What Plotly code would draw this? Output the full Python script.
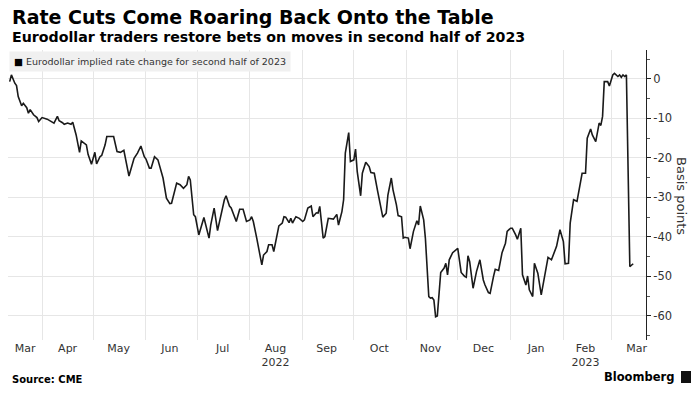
import plotly.graph_objects as go

# ---------------- data ----------------
series_name = "Eurodollar implied rate change for second half of 2023"

dates = [
    "2022-03-13", "2022-03-14", "2022-03-16", "2022-03-17", "2022-03-18", "2022-03-20", "2022-03-21",
    "2022-03-23", "2022-03-24", "2022-03-25", "2022-03-27", "2022-03-29", "2022-03-30",
    "2022-04-01", "2022-04-04", "2022-04-06", "2022-04-08", "2022-04-10", "2022-04-11", "2022-04-13",
    "2022-04-14", "2022-04-16", "2022-04-18", "2022-04-19", "2022-04-21", "2022-04-23", "2022-04-24",
    "2022-04-27", "2022-04-28", "2022-04-30",
    "2022-05-02", "2022-05-03", "2022-05-05", "2022-05-06", "2022-05-08", "2022-05-09", "2022-05-11",
    "2022-05-13", "2022-05-15", "2022-05-17", "2022-05-19", "2022-05-22", "2022-05-25", "2022-05-27",
    "2022-05-29", "2022-05-31",
    "2022-06-01", "2022-06-03", "2022-06-04", "2022-06-06", "2022-06-08", "2022-06-09", "2022-06-11",
    "2022-06-13", "2022-06-15", "2022-06-16", "2022-06-18", "2022-06-19", "2022-06-21", "2022-06-23",
    "2022-06-25", "2022-06-26", "2022-06-27", "2022-06-29", "2022-06-30",
    "2022-07-02", "2022-07-05", "2022-07-08", "2022-07-09", "2022-07-11", "2022-07-13", "2022-07-15",
    "2022-07-17", "2022-07-18", "2022-07-20", "2022-07-21", "2022-07-24", "2022-07-26", "2022-07-28",
    "2022-07-30",
    "2022-08-01", "2022-08-02", "2022-08-03", "2022-08-05", "2022-08-06", "2022-08-08", "2022-08-09",
    "2022-08-11", "2022-08-12", "2022-08-14", "2022-08-15", "2022-08-17", "2022-08-18", "2022-08-20",
    "2022-08-21", "2022-08-22", "2022-08-24", "2022-08-25", "2022-08-26", "2022-08-28", "2022-08-30",
    "2022-09-01", "2022-09-02", "2022-09-04", "2022-09-06", "2022-09-07", "2022-09-09", "2022-09-10",
    "2022-09-11", "2022-09-13", "2022-09-14", "2022-09-16", "2022-09-18", "2022-09-19", "2022-09-21",
    "2022-09-22", "2022-09-24", "2022-09-25", "2022-09-26", "2022-09-28", "2022-09-29",
    "2022-10-01", "2022-10-02", "2022-10-03", "2022-10-05", "2022-10-06", "2022-10-08", "2022-10-10",
    "2022-10-11", "2022-10-13", "2022-10-15", "2022-10-17", "2022-10-18", "2022-10-20", "2022-10-21",
    "2022-10-23", "2022-10-24", "2022-10-26", "2022-10-27", "2022-10-29", "2022-10-30", "2022-10-31",
    "2022-11-02", "2022-11-03", "2022-11-05", "2022-11-07", "2022-11-08", "2022-11-09", "2022-11-11",
    "2022-11-12", "2022-11-14", "2022-11-15", "2022-11-16", "2022-11-17", "2022-11-18", "2022-11-19",
    "2022-11-21", "2022-11-23", "2022-11-24", "2022-11-25", "2022-11-26", "2022-11-28", "2022-11-30",
    "2022-12-01", "2022-12-03", "2022-12-05", "2022-12-06", "2022-12-07", "2022-12-08", "2022-12-10",
    "2022-12-12", "2022-12-13", "2022-12-14", "2022-12-16", "2022-12-17", "2022-12-19", "2022-12-20",
    "2022-12-22", "2022-12-23", "2022-12-25", "2022-12-27", "2022-12-29", "2022-12-30",
    "2023-01-01", "2023-01-02", "2023-01-04", "2023-01-05", "2023-01-07", "2023-01-08", "2023-01-10",
    "2023-01-11", "2023-01-12", "2023-01-14", "2023-01-15", "2023-01-17", "2023-01-19", "2023-01-21",
    "2023-01-23", "2023-01-25", "2023-01-28", "2023-01-30",
    "2023-02-01", "2023-02-02", "2023-02-04", "2023-02-05", "2023-02-07", "2023-02-09", "2023-02-11",
    "2023-02-12", "2023-02-14", "2023-02-15", "2023-02-17", "2023-02-18", "2023-02-20", "2023-02-22",
    "2023-02-23", "2023-02-24", "2023-02-25", "2023-02-27", "2023-02-28",
    "2023-03-02", "2023-03-03", "2023-03-05", "2023-03-06", "2023-03-07", "2023-03-08", "2023-03-09",
    "2023-03-10", "2023-03-12", "2023-03-14",
]

values = [
    -0.7, 1.0, -1.1, -1.7, -4.5, -6.8, -6.2,
    -7.3, -8.7, -7.8, -9.1, -9.8, -10.8,
    -9.8, -10.2, -10.8, -11.2, -9.5, -10.6, -11.1,
    -11.5, -11.2, -11.5, -11.0, -14.2, -18.6, -15.7,
    -16.7, -19.1, -21.6,
    -18.6, -21.5, -19.7, -19.4, -16.7, -14.6, -14.6,
    -14.6, -18.4, -18.6, -18.1, -24.6, -20.1, -18.8,
    -17.0, -19.7,
    -20.3, -22.6, -22.6, -19.7, -20.5, -22.2, -25.1,
    -30.2, -31.6, -31.5, -28.5, -26.4, -26.8, -27.7,
    -26.8, -24.7, -25.6, -34.4, -34.9,
    -39.5, -35.1, -40.3, -37.0, -32.7, -38.4, -34.4,
    -30.6, -29.6, -32.2, -32.7, -36.1, -33.0, -33.0,
    -36.1,
    -35.7, -34.9, -36.1, -40.3, -42.4, -47.1, -44.6,
    -43.7, -42.0, -42.0, -43.7, -39.9, -37.2, -36.5,
    -34.9, -35.0, -36.4, -35.3, -36.5, -34.9, -35.3,
    -36.1, -35.7, -32.7, -32.2, -34.9, -33.9, -34.0,
    -32.3, -40.3, -39.9, -35.3, -35.5, -35.5, -34.3,
    -37.0, -33.6, -30.6, -18.8, -13.6, -20.9,
    -20.5, -17.8, -23.5, -29.6, -23.9, -21.1, -22.2,
    -23.7, -23.9, -28.5, -32.7, -35.0, -34.0, -29.4,
    -25.1, -28.1, -31.9, -34.6, -34.9, -40.3, -40.1,
    -40.3, -43.0, -38.6, -35.9, -37.0, -32.2, -35.7,
    -40.3, -55.1, -55.5, -55.4, -56.0, -60.2, -60.0,
    -49.0, -47.9, -46.7, -49.6, -45.8, -44.0, -43.1,
    -42.9, -49.0, -50.0, -50.2, -44.8, -46.3, -53.0,
    -48.8, -47.5, -45.8, -50.9, -52.2, -54.1, -54.3,
    -50.0, -48.2, -48.5, -44.0, -41.6, -38.6,
    -37.8, -37.8, -39.5, -40.6, -37.8, -49.6, -52.2,
    -49.9, -53.4, -55.1, -46.7, -49.2, -54.7, -50.0,
    -45.2, -45.8, -42.4, -38.2,
    -41.2, -46.8, -46.7, -36.5, -30.6, -31.0, -26.8,
    -23.9, -23.9, -15.0, -12.7, -14.2, -15.9, -11.2,
    -11.8, -9.5, -0.7, -0.7, -1.8,
    1.0, 1.4, 0.6, 1.0, 0.4, 1.0, 0.6,
    1.0, -47.5, -46.8,
]
assert len(dates) == len(values)

month_label_dates = ["2022-03-22", "2022-04-16", "2022-05-16", "2022-06-15", "2022-07-16",
                     "2022-08-16", "2022-09-15", "2022-10-16", "2022-11-15", "2022-12-16",
                     "2023-01-16", "2023-02-14", "2023-03-16"]
month_labels = ["Mar", "Apr", "May", "Jun", "Jul", "Aug<br>2022", "Sep", "Oct", "Nov", "Dec",
                "Jan", "Feb<br>2023", "Mar"]
month_starts = ["2022-04-01", "2022-05-01", "2022-06-01", "2022-07-01", "2022-08-01", "2022-09-01",
                "2022-10-01", "2022-11-01", "2022-12-01", "2023-01-01", "2023-02-01", "2023-03-01"]

y_ticks = [0, -10, -20, -30, -40, -50, -60]
y_tick_labels = ["0", "-10", "-20", "-30", "-40", "-50", "-60"]
y_minor_ticks = [5, -5, -15, -25, -35, -45, -55, -65]

title = "Rate Cuts Come Roaring Back Onto the Table"
subtitle = "Eurodollar traders restore bets on moves in second half of 2023"
source = "Source: CME"
y_title = "Basis points"

# ---------------- figure ----------------
FONT = "DejaVu Sans"
TXT = "#333333"

fig = go.Figure()
fig.add_trace(go.Scatter(
    x=dates, y=values, mode="lines", name=series_name, showlegend=False,
    line=dict(color="#1a1a1a", width=1.6),
))

fig.update_layout(
    width=699, height=393,
    margin=dict(l=8, r=53, t=50, b=53),
    paper_bgcolor="white", plot_bgcolor="white",
    font=dict(family=FONT, color=TXT, size=11),
    showlegend=False,
    xaxis=dict(
        type="date",
        range=["2022-03-12", "2023-03-21 12:00"],
        tickmode="array", tickvals=month_label_dates, ticktext=month_labels,
        showgrid=False, ticks="", zeroline=False, showline=False,
        tickfont=dict(family=FONT, size=11, color=TXT),
        minor=dict(tickmode="array", tickvals=month_starts, showgrid=True,
                   gridcolor="#e6e6e6", gridwidth=1, ticks=""),
    ),
    yaxis=dict(
        side="right",
        range=[-66.1, 7.3],
        tickmode="array", tickvals=y_ticks, ticktext=y_tick_labels,
        showgrid=True, gridcolor="#e6e6e6", gridwidth=1,
        zeroline=False,
        showline=True, linecolor="#222222", linewidth=1,
        ticks="outside", ticklen=4, tickcolor="#222222", tickwidth=1,
        tickfont=dict(family=FONT, size=11.5, color=TXT),
        minor=dict(tickmode="array", tickvals=y_minor_ticks, ticks="outside",
                   ticklen=3, tickcolor="#555555", showgrid=False),
    ),
)

# plot area: y pixel 50 (paper 1) to 340 (paper 0)
def py(pix):
    return (340 - pix) / 290.0

annotations = [
    dict(text="<b>" + title + "</b>", x=0, y=py(17), xshift=2,
         font=dict(family=FONT, size=19, color="#000000")),
    dict(text="<b>" + subtitle + "</b>", x=0, y=py(37), xshift=2,
         font=dict(family=FONT, size=14.2, color="#000000")),
    dict(text="<span style='color:#000000'>■</span> " + series_name, x=0, y=py(62), xshift=1,
         bgcolor="#f0f0f0", borderpad=4,
         font=dict(family=FONT, size=9.5, color=TXT)),
    dict(text="<b>" + source + "</b>", x=0, y=py(379), xshift=2,
         font=dict(family=FONT, size=10, color="#000000")),
    dict(text="<b>Bloomberg</b>", x=1, y=py(377), xanchor="right", xshift=30,
         font=dict(family=FONT, size=11.5, color="#000000")),
]
for a in annotations:
    a.setdefault("xanchor", "left")
    a.update(xref="paper", yref="paper", yanchor="middle", showarrow=False)
    fig.add_annotation(**a)

fig.add_annotation(text=y_title, xref="paper", yref="paper", x=(682 - 8) / 638.0, y=py(196),
                   textangle=90, showarrow=False, xanchor="center", yanchor="middle",
                   font=dict(family=FONT, size=13, color=TXT))

# Bloomberg logo glyph
fig.add_shape(type="rect", xref="paper", yref="paper",
              x0=(681 - 8) / 638.0, x1=(691 - 8) / 638.0, y0=py(383), y1=py(371),
              fillcolor="#111111", line=dict(width=0))

fig.write_html("out.html", config={"displayModeBar": False},
               post_script="document.body.style.margin='0';document.body.style.overflow='hidden';")
